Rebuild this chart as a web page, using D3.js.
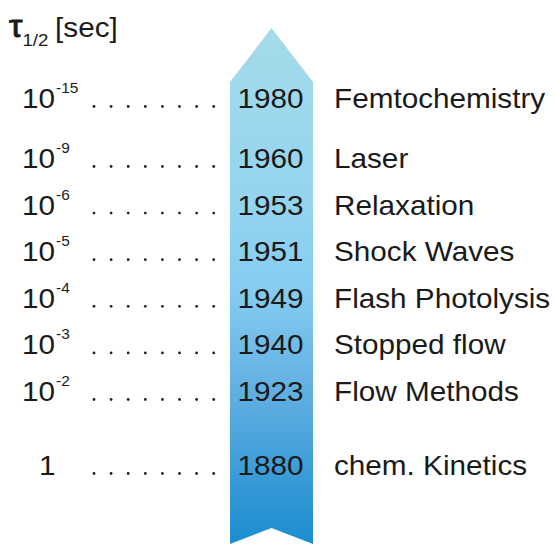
<!DOCTYPE html>
<html lang="en">
<head>
    <meta charset="UTF-8">
    <title>Kinetics timeline</title>
    <style>
        body{
            margin:0;
            background:#fff;
        }
        text{
            font-family: "Liberation Sans", Arial, sans-serif;
            fill:#1a1a1a;
        }
    </style>
    <script src="https://cdn.jsdelivr.net/npm/d3@7"></script>
</head>
<body>
<div id="container"></div>
</body>
<script>

var w = 557;
var h = 544;

// data
var exponents = ["-15", "-9", "-6", "-5", "-4", "-3", "-2", null];
var years = [1980, 1960, 1953, 1951, 1949, 1940, 1923, 1880];
var methods = ["Femtochemistry", "Laser", "Relaxation", "Shock Waves",
    "Flash Photolysis", "Stopped flow", "Flow Methods", "chem. Kinetics"];

var sx = 1.1;          // text is a bit wider than plain Arial
var fs = 27;

var svg = d3.select("#container")
        .append("svg")
        .attr("width", w)
        .attr("height", h);

// rows: evenly spaced in the middle, extra room above the first and below the last
var yScale = d3.scalePoint()
        .domain(methods)
        .range([168 - 46.6, 401 + 46.6]);
function rowY(d, i) {
    var y = yScale(d);
    if (i === 0) y -= 13.4;
    if (i === methods.length - 1) y += 27.4;
    return y;
}

// arrow
var ax0 = 230, ax1 = 313, axm = (ax0 + ax1) / 2;
var grad = svg.append("defs").append("linearGradient")
        .attr("id", "arrowGrad")
        .attr("x1", 0).attr("y1", 0).attr("x2", 0).attr("y2", 1);
grad.selectAll("stop")
        .data([
            {o: 0, c: "#a5dbe9"},
            {o: 0.35, c: "#93d4ef"},
            {o: 0.5, c: "#86cdf1"},
            {o: 0.7, c: "#62b0e2"},
            {o: 0.85, c: "#3f9dd8"},
            {o: 1, c: "#1a8ed0"}
        ])
        .enter()
        .append("stop")
        .attr("offset", function(d) { return d.o; })
        .attr("stop-color", function(d) { return d.c; });

svg.append("path")
        .attr("d", "M" + axm + ",28 L" + ax1 + ",82 L" + ax1 + "," + h +
            " L" + axm + ",528 L" + ax0 + "," + h + " L" + ax0 + ",82 Z")
        .attr("fill", "url(#arrowGrad)");

// title
var title = svg.append("text")
        .attr("font-size", fs)
        .attr("transform", "translate(9,37) scale(" + sx + ",1)");
title.append("tspan").attr("font-size", 31)
        .attr("stroke", "#1a1a1a").attr("stroke-width", 0.8).text("\u03c4");
title.append("tspan").attr("font-size", 17).attr("dy", 9).text("1/2");
title.append("tspan").attr("dy", -9).attr("dx", 6).text("[sec]");

var rows = svg.selectAll("g.row")
        .data(methods)
        .enter()
        .append("g")
        .attr("class", "row")
        .attr("transform", function(d, i) { return "translate(0," + rowY(d, i) + ")"; });

// left: half-life
rows.each(function(d, i) {
    var g = d3.select(this);
    var e = exponents[i];
    if (e) {
        var t = g.append("text")
                .attr("font-size", fs)
                .attr("transform", "translate(22,0) scale(" + sx + ",1)");
        t.append("tspan").text("10");
        t.append("tspan").attr("font-size", 14).attr("dy", -15).attr("dx", 1).text(e);
    } else {
        g.append("text")
                .attr("font-size", fs)
                .attr("transform", "translate(39,0) scale(" + sx + ",1)")
                .text("1");
    }
});

// dotted leaders
rows.selectAll("circle")
        .data(d3.range(8))
        .enter()
        .append("circle")
        .attr("cx", function(k) { return 94 + k * 17.1; })
        .attr("cy", -1.5)
        .attr("r", 1.4)
        .attr("fill", "#222");

// years on the arrow
rows.append("text")
        .attr("font-size", fs)
        .attr("text-anchor", "middle")
        .attr("transform", "translate(" + (axm - 1) + ",0) scale(" + sx + ",1)")
        .text(function(d, i) { return years[i]; });

// method labels
rows.append("text")
        .attr("font-size", fs)
        .attr("transform", "translate(334,0) scale(" + sx + ",1)")
        .text(function(d) { return d; });

</script>
</html>
